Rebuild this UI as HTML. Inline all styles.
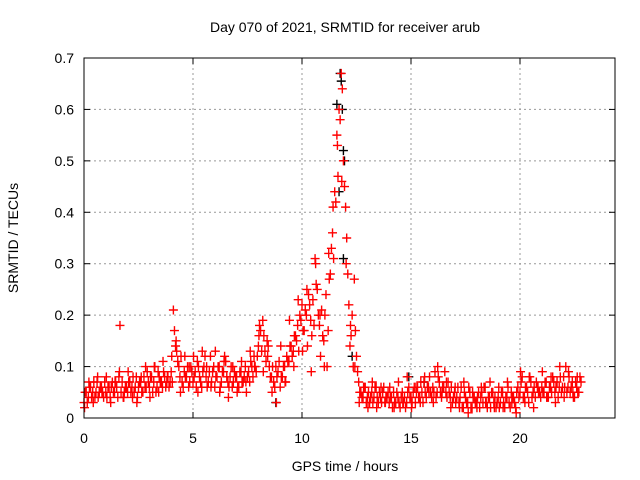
<!DOCTYPE html>
<html><head><meta charset="utf-8"><style>
body{margin:0;background:#fff}
svg{display:block;font-family:"Liberation Sans",sans-serif}
</style></head><body>
<svg id="chart" width="640" height="480">
<rect width="640" height="480" fill="#fff"/>
<text x="345" y="32" font-size="14" text-anchor="middle">Day 070 of 2021, SRMTID for receiver arub</text>
<text x="345" y="471" font-size="14" text-anchor="middle">GPS time / hours</text>
<text x="18" y="238" font-size="14" text-anchor="middle" transform="rotate(-90 18 238)">SRMTID / TECUs</text>
<g id="grid"></g><g id="ticks"></g><g id="marks"></g>
<rect x="84" y="58" width="531" height="360" fill="none" stroke="#000" stroke-width="1"/>
</svg>
<script>
const xTicks=[0,5,10,15,20];
const yTicks=[0,0.1,0.2,0.3,0.4,0.5,0.6,0.7];
const yTickLabels=["0","0.1","0.2","0.3","0.4","0.5","0.6","0.7"];
// red series A: t = 0.0, 0.1, ...
const redA=[.03,.05,.04,.06,.05,.04,.07,.05,.06,.04,
.05,.06,.04,.07,.05,.06,.08,.05,.04,.06,
.05,.07,.06,.05,.08,.06,.07,.05,.06,.09,
.06,.08,.07,.05,.09,.07,.06,.08,.07,.06,
.09,.21,.14,.11,.08,.07,.09,.08,.06,.1,
.07,.09,.11,.08,.06,.1,.08,.07,.12,.09,
.06,.08,.1,.07,.09,.11,.07,.08,.06,.09,
.08,.06,.09,.07,.1,.08,.07,.1,.12,.09,
.14,.17,.19,.13,.15,.1,.08,.07,.1,.09,
.06,.08,.1,.12,.11,.14,.13,.16,.18,.2,
.22,.17,.2,.24,.19,.23,.31,.25,.18,.21,
.15,.24,.17,.28,.36,.44,.55,.6,.67,.5,
.41,.28,.14,.2,.27,.12,.07,.05,.04,.06,
.04,.03,.05,.04,.06,.03,.04,.05,.03,.04,
.03,.04,.05,.03,.04,.02,.05,.04,.03,.06,
.04,.05,.03,.06,.04,.05,.07,.04,.06,.05,
.06,.09,.05,.07,.04,.06,.05,.07,.04,.03,
.05,.04,.03,.06,.02,.04,.03,.05,.02,.04,
.03,.05,.04,.03,.06,.02,.04,.05,.03,.02,
.04,.03,.05,.02,.04,.03,.05,.04,.02,.06,
.05,.08,.04,.06,.03,.07,.05,.04,.06,.05,
.06,.05,.07,.04,.06,.08,.05,.07,.06,.05,
.08,.1,.06,.05,.07,.04,.06,.05,.07];
// red series B: t = 0.05, 0.15, ...
const redB=[.05,.03,.06,.04,.07,.05,.04,.06,.05,.07,
.04,.06,.06,.05,.07,.04,.18,.07,.05,.06,
.07,.05,.08,.06,.04,.07,.05,.08,.06,.07,
.08,.05,.1,.06,.08,.07,.09,.06,.08,.07,
.07,.17,.13,.1,.12,.06,.08,.1,.07,.09,
.08,.06,.1,.07,.09,.12,.06,.09,.07,.1,
.08,.1,.06,.09,.12,.08,.06,.1,.07,.08,
.06,.09,.07,.08,.05,.09,.11,.08,.1,.12,
.18,.13,.16,.11,.14,.08,.1,.06,.08,.11,
.08,.1,.07,.11,.14,.12,.16,.15,.13,.19,
.17,.21,.14,.22,.16,.18,.26,.2,.12,.16,
.2,.1,.27,.33,.31,.42,.47,.58,.64,.45,
.35,.22,.16,.1,.17,.09,.05,.04,.06,.03,
.05,.04,.03,.06,.04,.05,.03,.06,.04,.05,
.04,.02,.03,.05,.03,.04,.03,.02,.05,.04,
.03,.06,.05,.04,.07,.03,.05,.06,.08,.04,
.05,.04,.08,.05,.06,.09,.04,.05,.06,.04,
.03,.06,.04,.02,.05,.03,.06,.02,.04,.03,
.04,.02,.05,.06,.03,.04,.02,.05,.04,.03,
.02,.05,.03,.04,.06,.02,.04,.03,.05,.04,
.07,.04,.06,.05,.08,.04,.06,.07,.05,.04,
.05,.07,.04,.06,.05,.07,.06,.04,.08,.06,
.06,.05,.08,.06,.04,.07,.05,.08];
// red series C: t = 0.025, 0.225, ... (wider scatter)
const redC=[.02,.07,.03,.08,.05,
.08,.03,.07,.09,.04,
.09,.04,.03,.08,.1,
.04,.1,.05,.11,.08,
.12,.15,.05,.12,.1,
.12,.05,.13,.1,.06,
.13,.05,.11,.04,.1,
.05,.11,.07,.13,.1,
.16,.09,.12,.05,.03,
.14,.07,.19,.1,.23,
.13,.25,.09,.3,.2,
.1,.32,.41,.53,.46,
.3,.18,.1,.03,.06,
.02,.07,.02,.06,.03,
.06,.02,.07,.03,.08,
.02,.06,.03,.08,.05,
.03,.1,.05,.07,.02,
.06,.02,.07,.01,.05,
.02,.06,.03,.07,.02,
.06,.02,.07,.03,.01,
.09,.03,.08,.02,.06,
.09,.04,.08,.03,.1,
.04,.09,.05,.08];
const blackT=[11.75,11.8,11.85,11.9,11.95,11.6,11.7,12.3,14.9,15.6,8.8,11.9];
const blackV=[.67,.655,.60,.52,.50,.61,.44,.12,.08,.07,.03,.31];

const X0=84,XS=21.8,Y0=418,YS=514.3;
const xs=t=>X0+t*XS, ys=v=>Y0-v*YS;
const NS="http://www.w3.org/2000/svg";
const grid=document.getElementById('grid'),ticks=document.getElementById('ticks'),marks=document.getElementById('marks');
function mk(tag,at,parent){const e=document.createElementNS(NS,tag);for(const k in at)e.setAttribute(k,at[k]);parent.appendChild(e);return e;}
xTicks.forEach(t=>{
  const x=xs(t);
  if(t>0){const g=mk('line',{x1:x,y1:58,x2:x,y2:418,stroke:'#999','stroke-dasharray':'2,3'},grid);
  
  }
  const a=mk('line',{x1:x,y1:418,x2:x,y2:412,stroke:'#000'},ticks);
  
  
  const b=mk('line',{x1:x,y1:58,x2:x,y2:64,stroke:'#000'},ticks);
  
  
  const l=mk('text',{x:x,y:443,'font-size':14,'text-anchor':'middle'},ticks);l.textContent=t;
  
  
});
yTicks.forEach((v,i)=>{
  const y=ys(v);
  if(v>0&&v<0.7){const g=mk('line',{x1:84,y1:y,x2:615,y2:y,stroke:'#999','stroke-dasharray':'2,3'},grid);
  
  }
  const a=mk('line',{x1:84,y1:y,x2:90,y2:y,stroke:'#000'},ticks);
  
  
  const b=mk('line',{x1:609,y1:y,x2:615,y2:y,stroke:'#000'},ticks);
  
  
  const l=mk('text',{x:74,y:y+5,'font-size':14,'text-anchor':'end'},ticks);l.textContent=yTickLabels[i];
  
  
});
function plus(t,v,color,name){
  const x=xs(t),y=ys(v);
  const p=mk('path',{d:`M${x-4.5},${y}H${x+4.5}M${x},${y-4.5}V${y+4.5}`,stroke:color,'stroke-width':1.4,fill:'none'},marks);
  
  
}
blackT.forEach((t,i)=>plus(t,blackV[i],'#000','black-point'));
redA.forEach((v,i)=>plus(i*0.1,v,'#f00','red-point'));
redB.forEach((v,i)=>plus(i*0.1+0.05,v,'#f00','red-point'));
redC.forEach((v,i)=>plus(i*0.2+0.025,v,'#f00','red-point'));
</script>
</body></html>
